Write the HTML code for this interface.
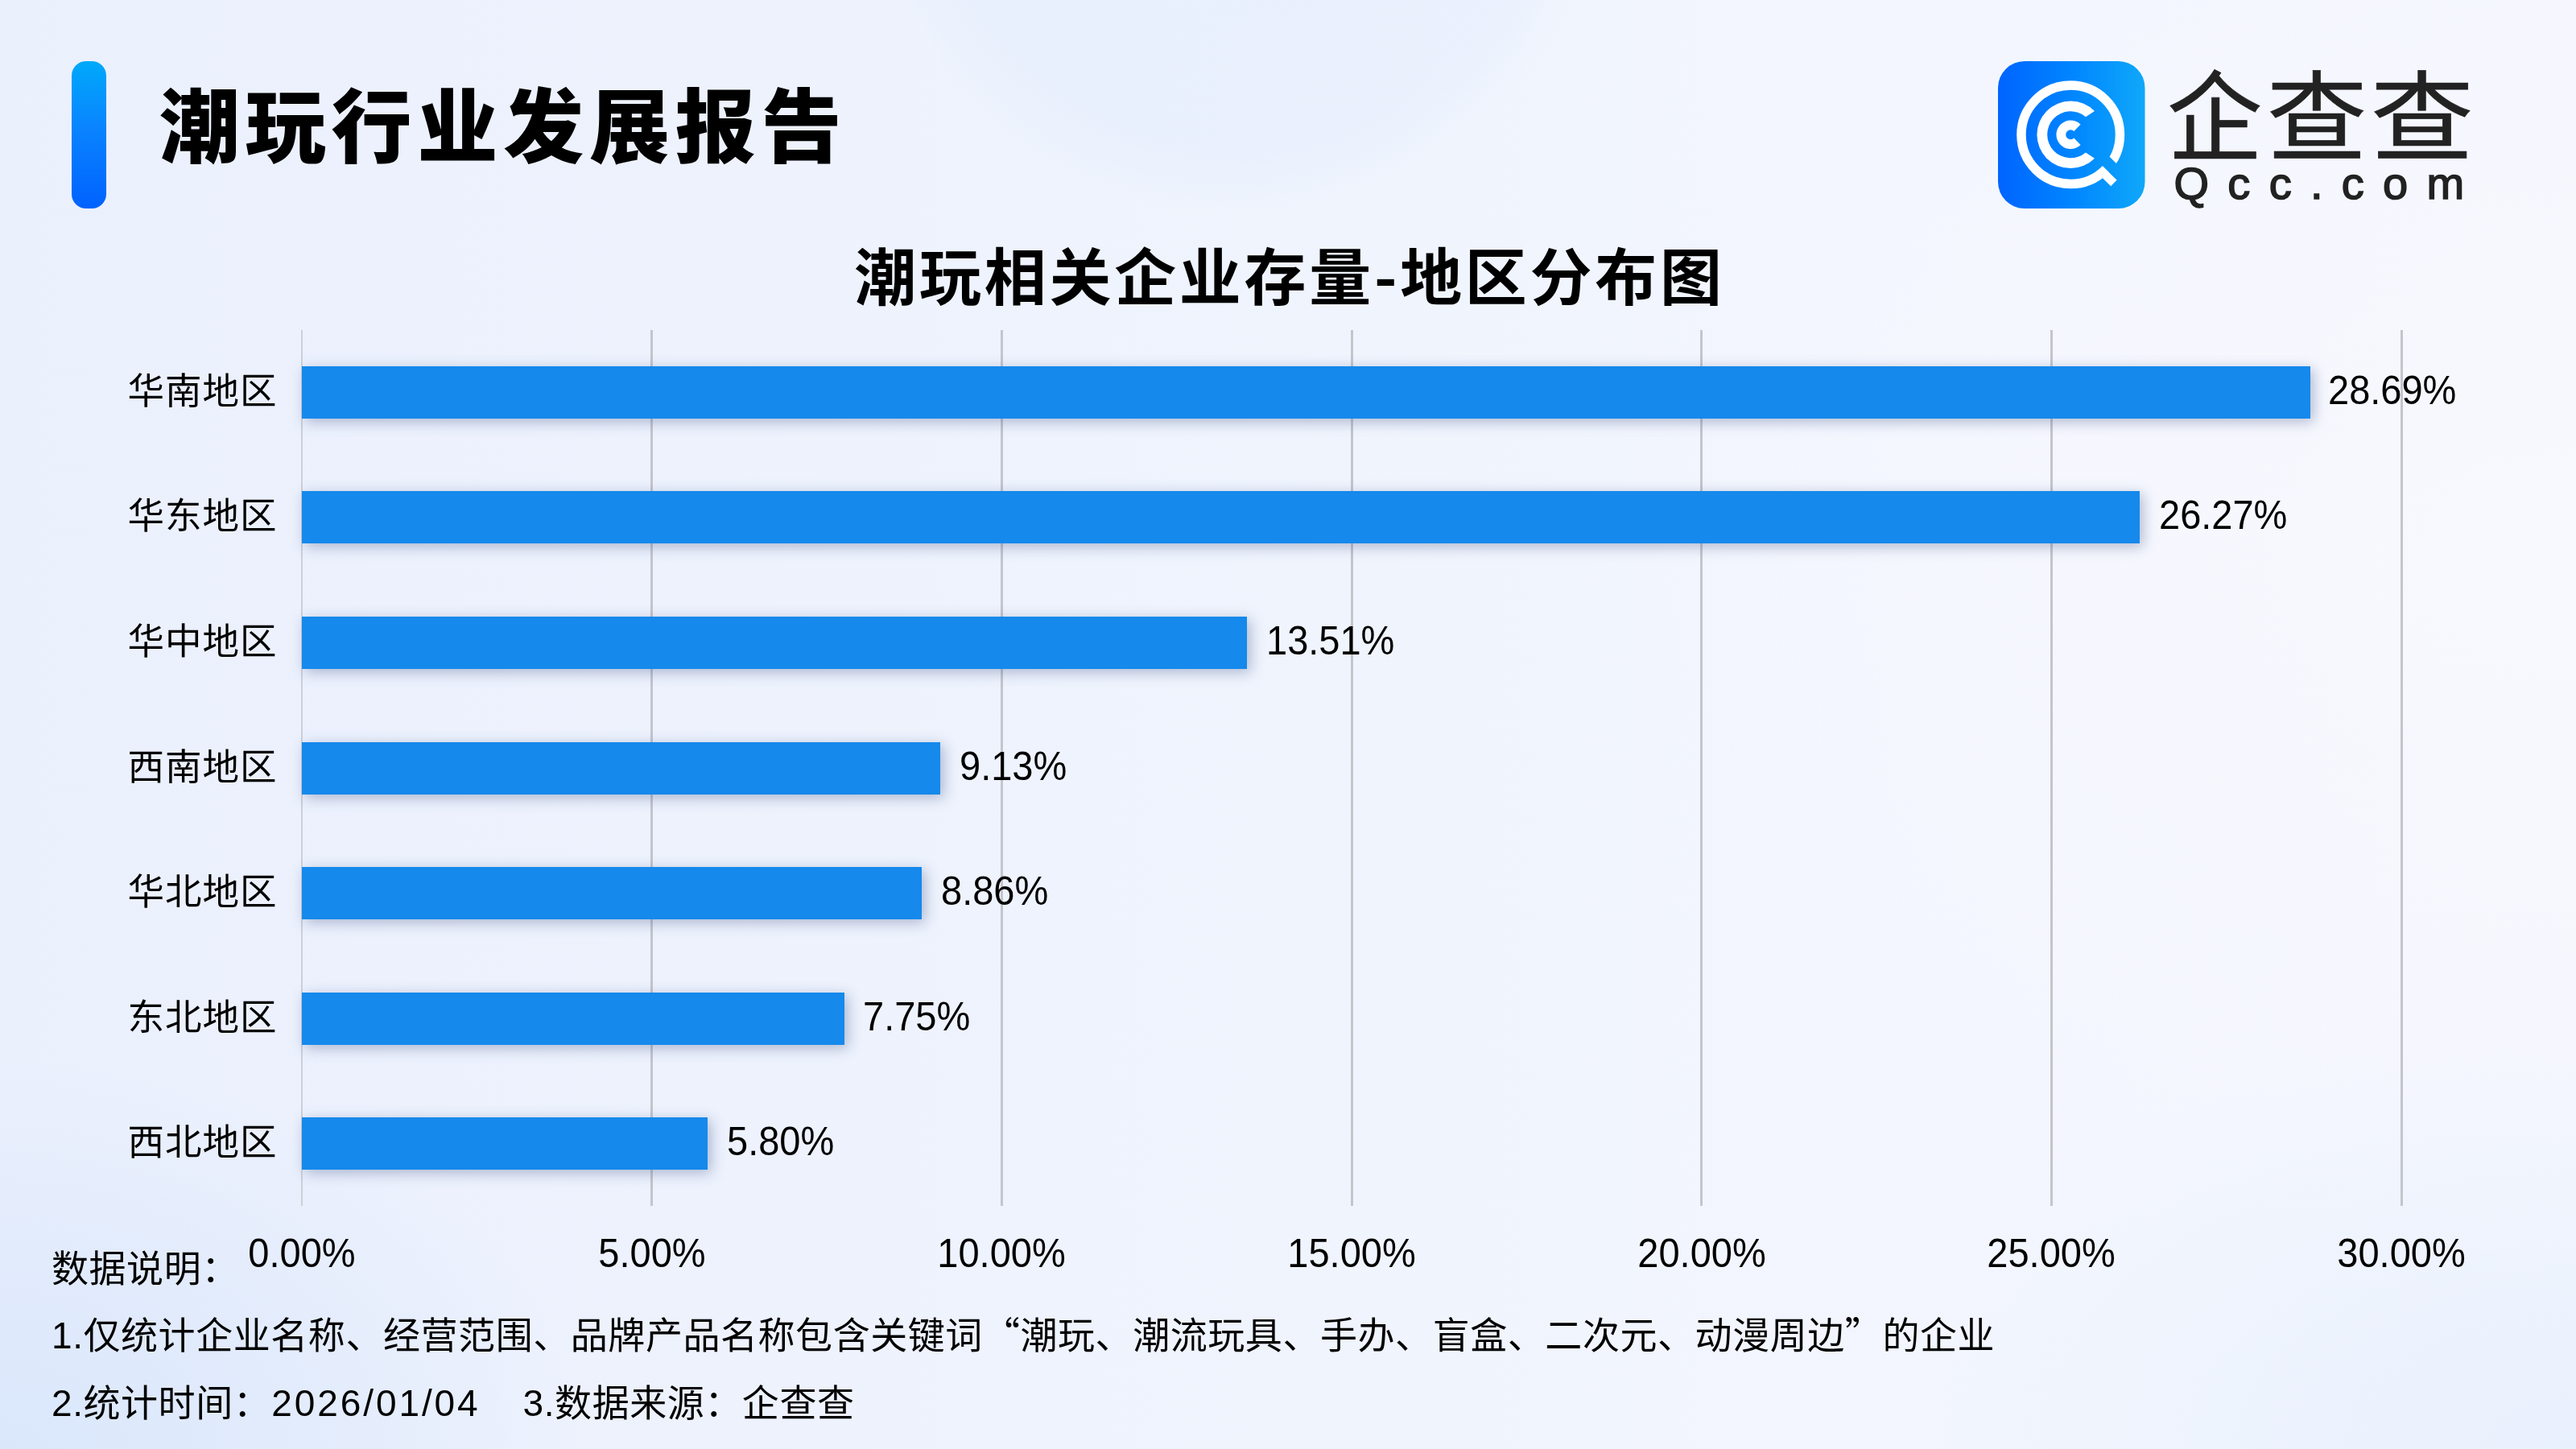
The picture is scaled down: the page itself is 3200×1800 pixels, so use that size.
<!DOCTYPE html>
<html lang="zh-CN">
<head>
<meta charset="utf-8">
<title>潮玩行业发展报告</title>
<style>
  html, body { margin: 0; padding: 0; }
  body {
    width: 3200px; height: 1800px; overflow: hidden; position: relative;
    font-family: "Liberation Sans", "Noto Sans CJK SC", sans-serif;
    color: #000;
    will-change: transform;
    background:
      radial-gradient(ellipse 720px 480px at 0px 1800px, rgba(218,231,251,1), rgba(218,231,251,0.6) 45%, rgba(218,231,251,0) 100%),
      radial-gradient(ellipse 900px 520px at 3200px 1800px, rgba(232,240,253,0.95), rgba(232,240,253,0.5) 50%, rgba(232,240,253,0) 100%),
      radial-gradient(ellipse 1200px 800px at 3200px 700px, rgba(248,249,254,0.8), rgba(248,249,254,0) 100%),
      radial-gradient(circle at 1540px -194px, rgba(224,236,252,0.45) 0px, rgba(224,236,252,0.4) 380px, rgba(224,236,252,0) 460px),
      linear-gradient(90deg, #ebf0fd 0%, #eef3fd 40%, #f3f6fe 75%, #f5f7fe 100%);
  }
  .abs { position: absolute; white-space: nowrap; }
  /* header */
  #pill {
    left: 88.5px; top: 76px; width: 43.5px; height: 183px; border-radius: 18px;
    background: linear-gradient(180deg, #00a9fa 0%, #0a84ff 45%, #0062ff 100%);
  }
  #h1 {
    left: 198px; top: 74.7px; height: 152px; line-height: 152px;
    font-family: "Noto Sans CJK SC", "Liberation Sans", sans-serif;
    font-weight: 900; font-size: 100px; letter-spacing: 6.8px; margin: 0;
  }
  /* logo */
  #logoicon { left: 2482px; top: 76px; width: 183px; height: 183px; }
  #brand {
    left: 0; top: 65px; height: 140px; line-height: 140px; width: 3200px;
    font-family: "Noto Sans CJK SC", "Liberation Sans", sans-serif;
    font-weight: 400; font-size: 119px; color: #222; -webkit-text-stroke: 0.7px #222;
  }
  #brand span { position: absolute; top: 0; display: inline-block; transform-origin: 0 0; }
  #domain {
    left: 2700.5px; top: 197.5px; height: 60px; line-height: 60px;
    font-family: "Liberation Sans", sans-serif; font-weight: 400;
    font-size: 56px; color: #222; letter-spacing: 23.3px; -webkit-text-stroke: 1.6px #222;
  }
  /* chart */
  #ctitle {
    left: 0; width: 3196px; padding-left: 4px; top: 279.7px; height: 120px; line-height: 120px; text-align: center;
    font-family: "Noto Sans CJK SC", "Liberation Sans", sans-serif;
    font-weight: 700; font-size: 77px; letter-spacing: 3.7px; margin: 0;
  }
  .grid { position: absolute; top: 410px; height: 1088px; width: 3px; background: #c4c5cc; }
  .axis { position: absolute; top: 410px; height: 1088px; width: 2px; left: 374px; background: #cdd0d8; }
  .bar {
    position: absolute; left: 375px; height: 65px; background: #1589ec;
    box-shadow: 4px 4px 16px rgba(70,90,140,0.40);
  }
  .cat {
    position: absolute; white-space: nowrap; right: 2855.5px; height: 65px; line-height: 65px;
    font-size: 45.5px; letter-spacing: 1px; text-align: right;
  }
  .val { position: absolute; white-space: nowrap; height: 65px; line-height: 65px; font-size: 47px; margin-left: -2px; margin-top: -0.8px; transform: scaleY(1.045); transform-origin: 50% 56%; }
  .tick {
    position: absolute; white-space: nowrap; width: 300px; margin-left: -150px; text-align: center;
    top: 1527px; height: 60px; line-height: 60px; font-size: 47px; transform: scaleY(1.045); transform-origin: 50% 56%;
  }
  .q { font-family: "Noto Sans CJK SC", sans-serif; }
  .note { position: absolute; white-space: nowrap; left: 64px; height: 70px; line-height: 70px; font-size: 46px; letter-spacing: 0.56px; margin: 0; }
  .date { letter-spacing: 2.9px; margin-left: 1px; margin-right: 6.5px; }
</style>
</head>
<body>
  <div id="pill" class="abs"></div>
  <h1 id="h1" class="abs">潮玩行业发展报告</h1>

  <svg id="logoicon" class="abs" viewBox="0 0 183 183">
    <defs>
      <linearGradient id="lg" x1="0" y1="0" x2="1" y2="0">
        <stop offset="0" stop-color="#0064ff"/>
        <stop offset="0.5" stop-color="#0085ff"/>
        <stop offset="1" stop-color="#0fa8f9"/>
      </linearGradient>
      <mask id="qm" maskUnits="userSpaceOnUse" x="0" y="0" width="183" height="183">
        <rect x="0" y="0" width="183" height="183" fill="#fff"/>
        <polygon points="112.4,112.3 162.3,161.4 172.3,151.2 122.4,102.1" fill="#000"/>
      </mask>
    </defs>
    <rect x="0" y="0" width="182.5" height="183" rx="33" ry="33" fill="url(#lg)"/>
    <g transform="translate(-0.8,0)">
    <circle cx="91" cy="91.3" r="61.25" fill="none" stroke="#fff" stroke-width="11.5" mask="url(#qm)"/>
    <polygon points="130.9,130.55 148.4,147.7 140.97,155.26 126.37,140.9" fill="#fff"/>
    <path d="M120.76,61.95 A41.8,41.8 0 1 0 120.76,120.65 L109.72,113.45 A29,29 0 1 1 109.72,69.15 Z" fill="#fff"/>
    <path d="M103.37,78.5 A17.8,17.8 0 1 0 103.37,104.1 L95.2,95.6 A6,6 0 1 1 95.2,87 Z" fill="#fff"/>
    </g>
  </svg>
  <div id="brand" class="abs"><span style="left:2692.2px;transform:scale(0.995,1.022)">企</span><span style="left:2815.9px;transform:scale(1.045,1.022)">查</span><span style="left:2944.7px;transform:scale(1.074,1.022)">查</span></div>
  <div id="domain" class="abs">Qcc.com</div>

  <h2 id="ctitle" class="abs">潮玩相关企业存量-地区分布图</h2>

  <div id="chart">
    <div class="axis"></div>
    <div class="grid" style="left:808px"></div>
    <div class="grid" style="left:1243px"></div>
    <div class="grid" style="left:1678px"></div>
    <div class="grid" style="left:2112px"></div>
    <div class="grid" style="left:2547px"></div>
    <div class="grid" style="left:2982px"></div>

    <div class="bar" style="top:455px;width:2495px"></div>
    <div class="bar" style="top:610px;width:2283px"></div>
    <div class="bar" style="top:766px;width:1174px"></div>
    <div class="bar" style="top:922px;width:793px"></div>
    <div class="bar" style="top:1077px;width:770px"></div>
    <div class="bar" style="top:1233px;width:674px"></div>
    <div class="bar" style="top:1388px;width:504px"></div>

    <div class="cat" style="top:454px">华南地区</div>
    <div class="cat" style="top:609px">华东地区</div>
    <div class="cat" style="top:765px">华中地区</div>
    <div class="cat" style="top:921px">西南地区</div>
    <div class="cat" style="top:1076px">华北地区</div>
    <div class="cat" style="top:1232px">东北地区</div>
    <div class="cat" style="top:1387px">西北地区</div>

    <div class="val" style="top:453px;left:2894px">28.69%</div>
    <div class="val" style="top:608px;left:2684px">26.27%</div>
    <div class="val" style="top:764px;left:1575px">13.51%</div>
    <div class="val" style="top:920px;left:1194px">9.13%</div>
    <div class="val" style="top:1075px;left:1171px">8.86%</div>
    <div class="val" style="top:1231px;left:1074px">7.75%</div>
    <div class="val" style="top:1386px;left:905px">5.80%</div>

    <div class="tick" style="left:375px">0.00%</div>
    <div class="tick" style="left:810px">5.00%</div>
    <div class="tick" style="left:1244px">10.00%</div>
    <div class="tick" style="left:1679px">15.00%</div>
    <div class="tick" style="left:2114px">20.00%</div>
    <div class="tick" style="left:2548px">25.00%</div>
    <div class="tick" style="left:2983px">30.00%</div>
  </div>

  <p class="note" style="top:1541px">数据说明：</p>
  <p class="note" style="top:1620px">1.仅统计企业名称、经营范围、品牌产品名称包含关键词<span class="q">“</span>潮玩、潮流玩具、手办、盲盒、二次元、动漫周边<span class="q">”</span>的企业</p>
  <p class="note" style="top:1708px">2.统计时间：<span class="date">2026/01/04</span>　3.数据来源：企查查</p>
</body>
</html>
